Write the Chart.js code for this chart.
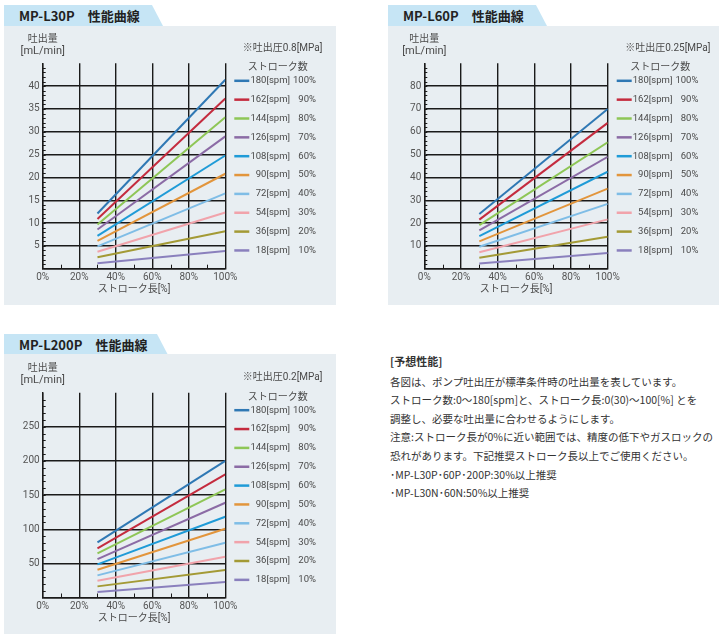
<!DOCTYPE html>
<html>
<head>
<meta charset="utf-8">
<script src="https://cdn.jsdelivr.net/npm/chart.js@4.4.1/dist/chart.umd.min.js"></script>
<style>
body{margin:0;width:727px;height:640px;position:relative;overflow:hidden;background:#fff;font-family:"Noto Sans CJK JP",sans-serif}
.tab{position:absolute;height:21px;background:#c6e5f5;clip-path:polygon(0 0,calc(100% - 11px) 0,100% 100%,0 100%);
  font-weight:bold;font-size:13px;color:#222;line-height:21px;padding-left:15px;box-sizing:border-box;white-space:nowrap}
.panel{position:absolute;background:#e8eef2}
.panel canvas{position:absolute;left:0;top:0}
#notes{position:absolute;left:390px;top:352px;color:#333;font-size:10.5px;line-height:18.6px;white-space:nowrap}
#notes .h{font-weight:bold;margin-bottom:2px;font-size:11px}
</style>
</head>
<body>
<div class="tab" style="left:4px;top:5px;width:159px">MP-L30P　性能曲線</div>
<div class="panel" style="left:4px;top:26px;width:332px;height:279px"><canvas id="c1" width="332" height="279"></canvas></div>

<div class="tab" style="left:388px;top:5px;width:159px">MP-L60P　性能曲線</div>
<div class="panel" style="left:388px;top:26px;width:331px;height:279px"><canvas id="c2" width="331" height="279"></canvas></div>

<div class="tab" style="left:4px;top:334px;width:164px">MP-L200P　性能曲線</div>
<div class="panel" style="left:4px;top:354px;width:332px;height:280px"><canvas id="c3" width="332" height="280"></canvas></div>

<div id="notes">
  <div class="h">[予想性能]</div>
  <div>各図は、ポンプ吐出圧が標準条件時の吐出量を表しています。</div>
  <div>ストローク数:0〜180[spm]と、ストローク長:0(30)〜100[%] とを</div>
  <div>調整し、必要な吐出量に合わせるようにします。</div>
  <div>注意:ストローク長が0%に近い範囲では、精度の低下やガスロックの</div>
  <div>恐れがあります。下記推奨ストローク長以上でご使用ください。</div>
  <div>･MP-L30P･60P･200P:30%以上推奨</div>
  <div>･MP-L30N･60N:50%以上推奨</div>
</div>

<script>
// stroke length range of every line [%]
const strokeLen = [30, 100];
const spmLabels = ["180[spm]","162[spm]","144[spm]","126[spm]","108[spm]","90[spm]","72[spm]","54[spm]","36[spm]","18[spm]"];
const rateLabels = ["100%","90%","80%","70%","60%","50%","40%","30%","20%","10%"];
const lineColors = ["#2f78b4","#c42b3e","#8ec656","#8b6ba5","#1f9bd7","#e2953c","#7fbde6","#f1a3ab","#a39a35","#8a80bd"];

// MP-L30P [mL/min] at 30% / 100%
const l30pLow  = [12.1,10.9,9.7,8.6,7.2,6.1,4.9,3.7,2.5,1.2];
const l30pHigh = [41.4,37.3,33.2,29.0,24.8,20.8,16.5,12.3,8.2,3.9];
// MP-L60P
const l60pLow  = [24.0,21.5,19.1,16.8,14.3,12.0,9.6,7.2,4.8,2.3];
const l60pHigh = [70.0,63.9,55.4,49.0,42.5,35.1,28.4,21.6,14.0,6.9];
// MP-L200P
const l200pLow  = [80.7,72.0,64.6,56.3,48.5,40.7,32.4,24.6,16.3,8.0];
const l200pHigh = [200.2,180.2,158.3,138.8,118.3,100.7,80.2,59.8,40.2,22.7];

const xMinor = [10,30,50,70,90];
const FONT = '"Roboto","Noto Sans CJK JP",sans-serif';
const TXT = "#4a4a4a";

const decor = {
  id:"decor",
  afterDraw(chart, args, o){
    const {ctx, chartArea:a, scales:{x,y}} = chart;
    ctx.save();
    ctx.strokeStyle="#1a1a1a"; ctx.lineWidth=1;
    for(let v=o.minor; v<y.max; v+=o.minor){
      const py=Math.round(y.getPixelForValue(v))+0.5;
      ctx.beginPath(); ctx.moveTo(a.left,py); ctx.lineTo(a.left+3,py); ctx.stroke();
    }
    xMinor.forEach(v=>{
      const px=Math.round(x.getPixelForValue(v))+0.5;
      ctx.beginPath(); ctx.moveTo(px,a.bottom); ctx.lineTo(px,a.bottom-4); ctx.stroke();
    });

    ctx.fillStyle=TXT; ctx.textBaseline="middle";
    ctx.textAlign="center";
    ctx.font="10px "+FONT;
    ctx.fillText("吐出量", a.left, a.top-24);
    ctx.font="11px "+FONT;
    ctx.fillText("[mL/min]", a.left, a.top-12.5);
    ctx.font="10px "+FONT;
    ctx.fillText("ストローク長[%]", (a.left+a.right)/2, a.bottom+21);
    ctx.fillText("ストローク数", a.right+52.5, a.top+4.5);
    ctx.textAlign="left";
    ctx.fillText(o.note, a.right+17.5, a.top-15);

    ctx.font="9.5px "+FONT;
    chart.data.datasets.forEach((d,i)=>{
      const ly=a.top+17.5+i*18.85;
      ctx.strokeStyle=d.borderColor; ctx.lineWidth=2.5;
      ctx.beginPath(); ctx.moveTo(a.right+9,ly); ctx.lineTo(a.right+24,ly); ctx.stroke();
      ctx.textAlign="right";
      ctx.fillText(spmLabels[i], a.right+64.7, ly);
      ctx.fillText(rateLabels[i], a.right+90.7, ly);
    });
    ctx.restore();
  }
};

function drawChart(id, low, high, yMax, yStep, minor, note, box){
  const datasets = low.map((v,i)=>({
    label:spmLabels[i],
    data:[{x:strokeLen[0],y:v},{x:strokeLen[1],y:high[i]}],
    borderColor:lineColors[i],
    borderWidth:2,
    pointRadius:0,
    tension:0
  }));
  new Chart(document.getElementById(id),{
    type:"line",
    data:{datasets},
    options:{
      responsive:false,
      animation:false,
      layout:{padding:{left:0,top:box.top,right:box.right,bottom:0}},
      plugins:{legend:{display:false},tooltip:{enabled:false},decor:{minor,note}},
      scales:{
        x:{
          type:"linear",min:0,max:100,
          afterFit:s=>{s.height=box.xh;},
          ticks:{stepSize:20,autoSkip:false,maxRotation:0,padding:3,color:"#555",font:{family:FONT,size:10},callback:v=>v+"%"},
          grid:{color:"#1a1a1a",lineWidth:1.4,drawTicks:false},
          border:{color:"#1a1a1a",width:1.4}
        },
        y:{
          min:0,max:yMax,
          afterFit:s=>{s.width=box.yw;},
          ticks:{stepSize:yStep,autoSkip:false,padding:3,color:"#555",font:{family:FONT,size:10},
            callback:v=>(v===0||v===yMax)?"":v},
          grid:{color:c=>c.tick.value===yMax?"rgba(0,0,0,0)":"#1a1a1a",lineWidth:1.4,drawTicks:false},
          border:{color:"#1a1a1a",width:1.4}
        }
      }
    },
    plugins:[decor]
  });
}

drawChart("c1", l30pLow, l30pHigh, 45, 5, 1, "※吐出圧0.8[MPa]", {top:37.3,right:110.7,xh:36.3,yw:38.7});
drawChart("c2", l60pLow, l60pHigh, 90, 10, 2, "※吐出圧0.25[MPa]", {top:37.3,right:111.3,xh:36.3,yw:36.3});
drawChart("c3", l200pLow, l200pHigh, 300, 50, 10, "※吐出圧0.2[MPa]", {top:38.7,right:110.7,xh:36.5,yw:38.7});
</script>
</body>
</html>
